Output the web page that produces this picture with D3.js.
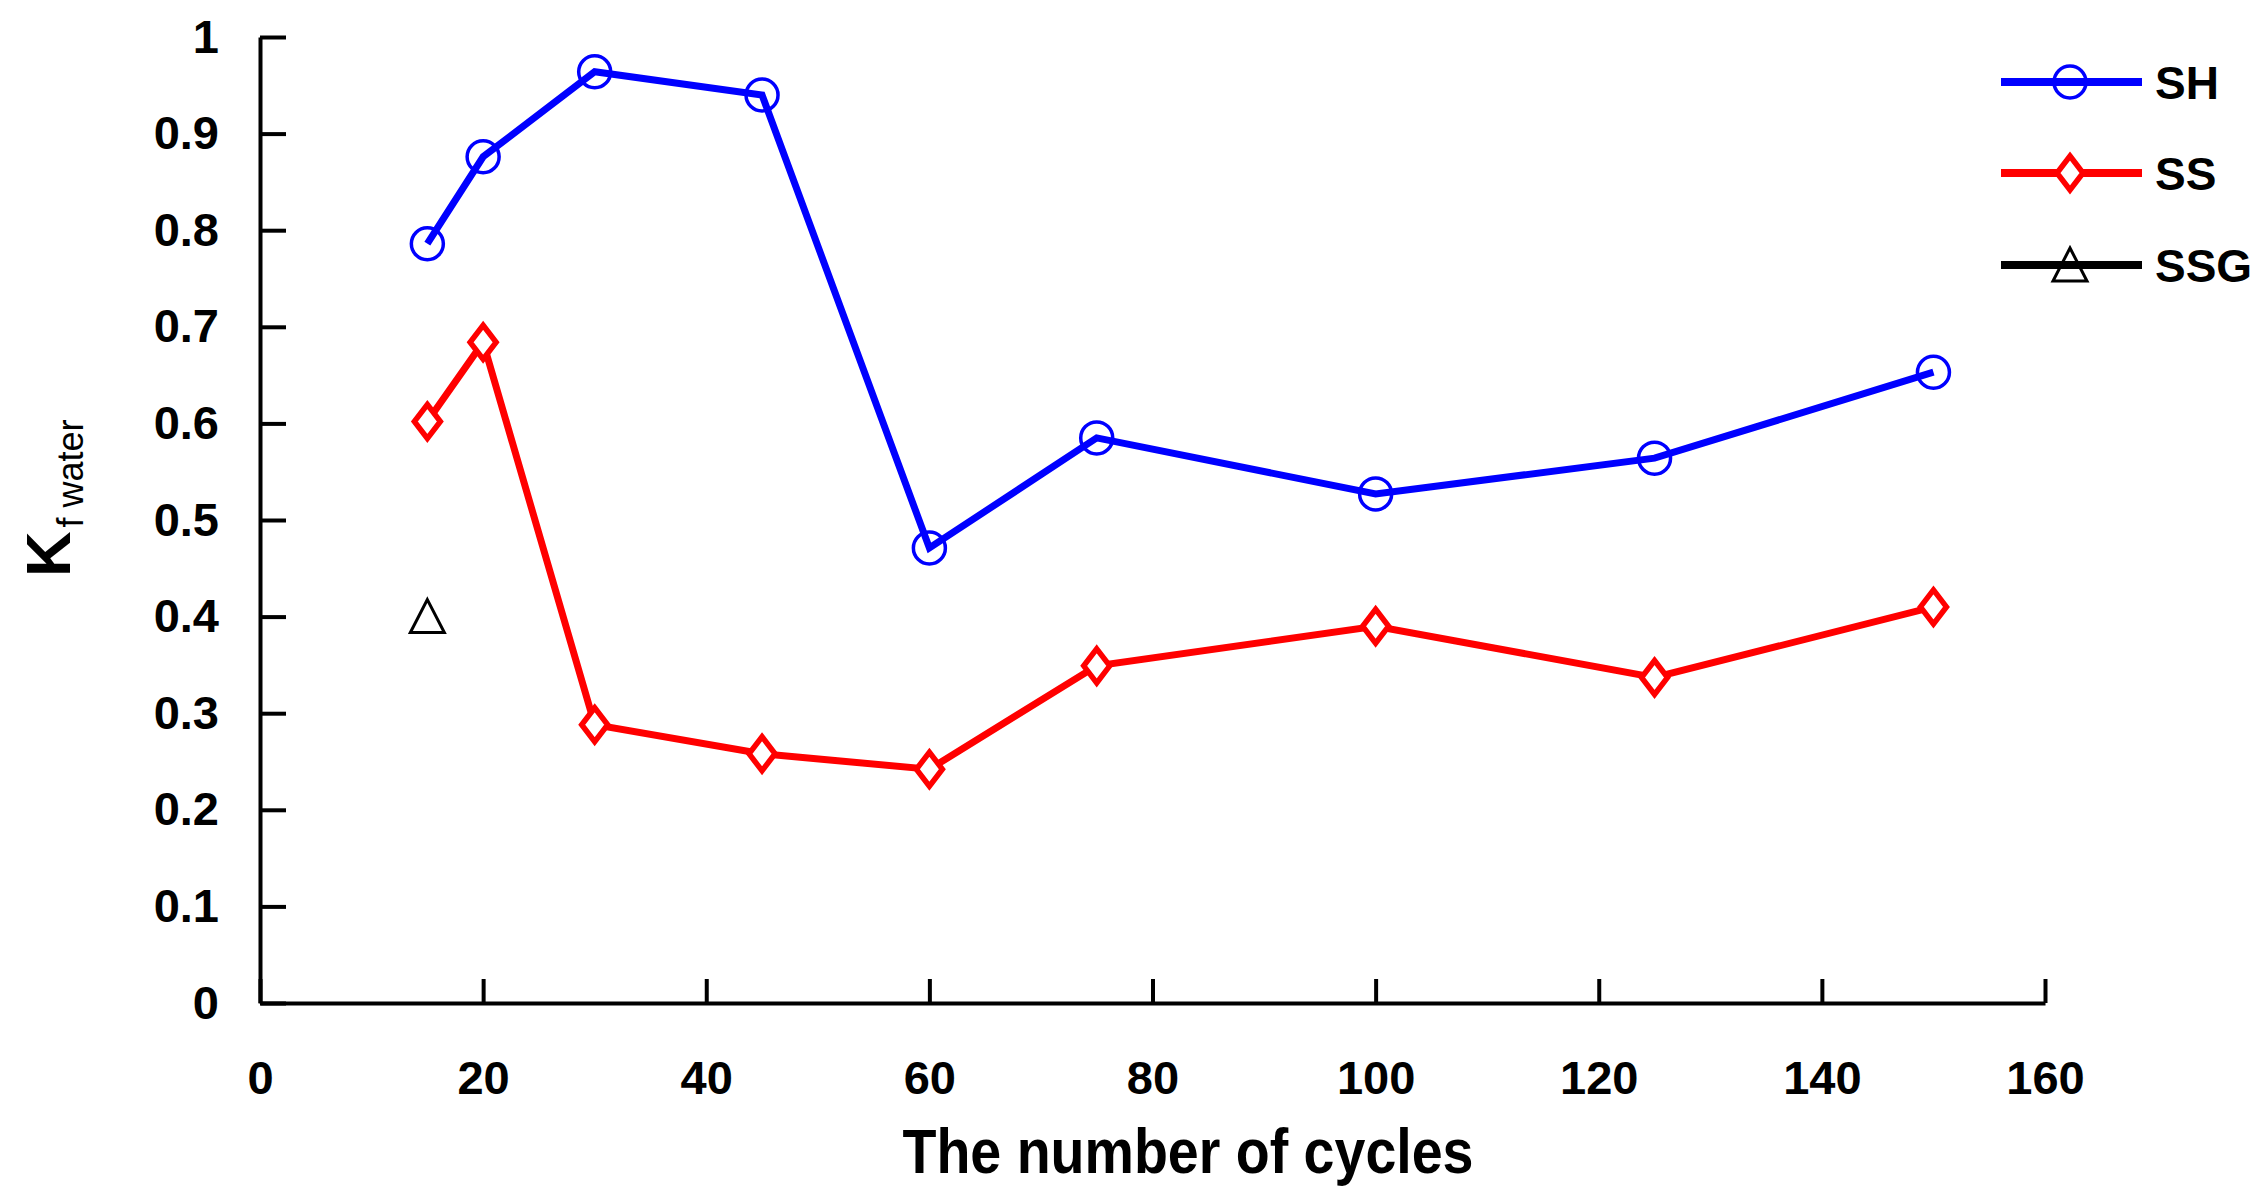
<!DOCTYPE html>
<html>
<head>
<meta charset="utf-8">
<script src="https://d3js.org/d3.v7.min.js"></script>
<style>
  html, body { margin: 0; padding: 0; background: #fff; }
  svg { display: block; }
  text { font-family: "Liberation Sans", Arial, sans-serif; }
</style>
</head>
<body>
<div id="chart"></div>
<script>
// Kf water vs number of cycles
const cycles = [15, 20, 30, 45, 60, 75, 100, 125, 150];
const shValues = [0.786, 0.876, 0.964, 0.940, 0.471, 0.585, 0.527, 0.564, 0.653];
const ssValues = [0.602, 0.684, 0.288, 0.258, 0.242, 0.349, 0.390, 0.337, 0.410];
const ssgCycles = [15];
const ssgValues = [0.40];

const xTicks = [0, 20, 40, 60, 80, 100, 120, 140, 160];
const yTicks = [0, 0.1, 0.2, 0.3, 0.4, 0.5, 0.6, 0.7, 0.8, 0.9, 1];
const seriesNames = ["SH", "SS", "SSG"];
const seriesColors = ["#0000ff", "#ff0000", "#000000"];

const width = 2264, height = 1202;
const margin = {left: 260, right: 219, top: 37, bottom: 199};

const svg = d3.select('#chart').append('svg')
    .attr('width', width)
    .attr('height', height);

const x = d3.scaleLinear().domain([0, 160]).range([margin.left, width - margin.right]);
const y = d3.scaleLinear().domain([0, 1]).range([height - margin.bottom, margin.top]);

// axes
const yAxis = d3.axisLeft(y)
    .tickValues(yTicks)
    .tickFormat(d => d3.format('~g')(d))
    .tickSizeInner(-26)
    .tickSizeOuter(0)
    .tickPadding(41);

const xAxis = d3.axisBottom(x)
    .tickValues(xTicks)
    .tickFormat(d3.format('d'))
    .tickSizeInner(-24)
    .tickSizeOuter(0)
    .tickPadding(58);

function styleAxis(g) {
    g.select('.domain').attr('stroke', '#000').attr('stroke-width', 4);
    g.selectAll('.tick line').attr('stroke', '#000').attr('stroke-width', 4);
    g.selectAll('.tick text')
        .attr('fill', '#000')
        .style('font-size', '47px')
        .style('font-weight', 'bold');
}

svg.append('g')
    .attr('transform', `translate(0,${y(0)})`)
    .call(xAxis)
    .call(styleAxis);

svg.append('g')
    .attr('transform', `translate(${x(0)},0)`)
    .call(yAxis)
    .call(styleAxis);

// axis titles
svg.append('text')
    .attr('x', 1188)
    .attr('y', 1173)
    .attr('text-anchor', 'middle')
    .attr('textLength', 571)
    .attr('lengthAdjust', 'spacingAndGlyphs')
    .style('font-size', '63px')
    .style('font-weight', 'bold')
    .text('The number of cycles');

const yTitle = svg.append('text')
    .attr('transform', 'translate(70,577) rotate(-90)');
yTitle.append('tspan')
    .style('font-size', '63px')
    .style('font-weight', 'bold')
    .text('K');
yTitle.append('tspan')
    .attr('dy', 13)
    .attr('dx', 4)
    .style('font-size', '36px')
    .text('f water');

// lines
const line = d3.line()
    .x(d => x(d[0]))
    .y(d => y(d[1]));

const shData = cycles.map((c, i) => [c, shValues[i]]);
const ssData = cycles.map((c, i) => [c, ssValues[i]]);
const ssgData = ssgCycles.map((c, i) => [c, ssgValues[i]]);

svg.append('path')
    .datum(ssData)
    .attr('d', line)
    .attr('fill', 'none')
    .attr('stroke', seriesColors[1])
    .attr('stroke-width', 7);

svg.append('path')
    .datum(shData)
    .attr('d', line)
    .attr('fill', 'none')
    .attr('stroke', seriesColors[0])
    .attr('stroke-width', 7);

// marker shapes
const diamond = 'M0,-17L13,0L0,17L-13,0Z';
const triangle = 'M0,-17L17,16L-17,16Z';

function drawMarker(g, kind, color) {
    if (kind === 0) {
        g.append('circle').attr('r', 16)
            .attr('fill', 'none').attr('stroke', color).attr('stroke-width', 3.5);
    } else if (kind === 1) {
        g.append('path').attr('d', diamond)
            .attr('fill', '#fff').attr('stroke', color).attr('stroke-width', 5.5);
    } else {
        g.append('path').attr('d', triangle)
            .attr('fill', 'none').attr('stroke', color).attr('stroke-width', 3);
    }
}

[shData, ssData, ssgData].forEach((data, k) => {
    svg.append('g').selectAll('g')
        .data(data)
        .join('g')
        .attr('transform', d => `translate(${x(d[0])},${y(d[1])})`)
        .each(function() { drawMarker(d3.select(this), k, seriesColors[k]); });
});

// legend
const legendY = [82, 173, 265];
const legend = svg.append('g');
seriesNames.forEach((name, k) => {
    const g = legend.append('g').attr('transform', `translate(0,${legendY[k]})`);
    g.append('line')
        .attr('x1', 2001).attr('x2', 2142)
        .attr('stroke', seriesColors[k])
        .attr('stroke-width', 8);
    const m = g.append('g').attr('transform', 'translate(2070,0)');
    drawMarker(m, k, seriesColors[k]);
    g.append('text')
        .attr('x', 2155)
        .attr('y', 17)
        .style('font-size', '46px')
        .style('font-weight', 'bold')
        .text(name);
});
</script>
</body>
</html>
